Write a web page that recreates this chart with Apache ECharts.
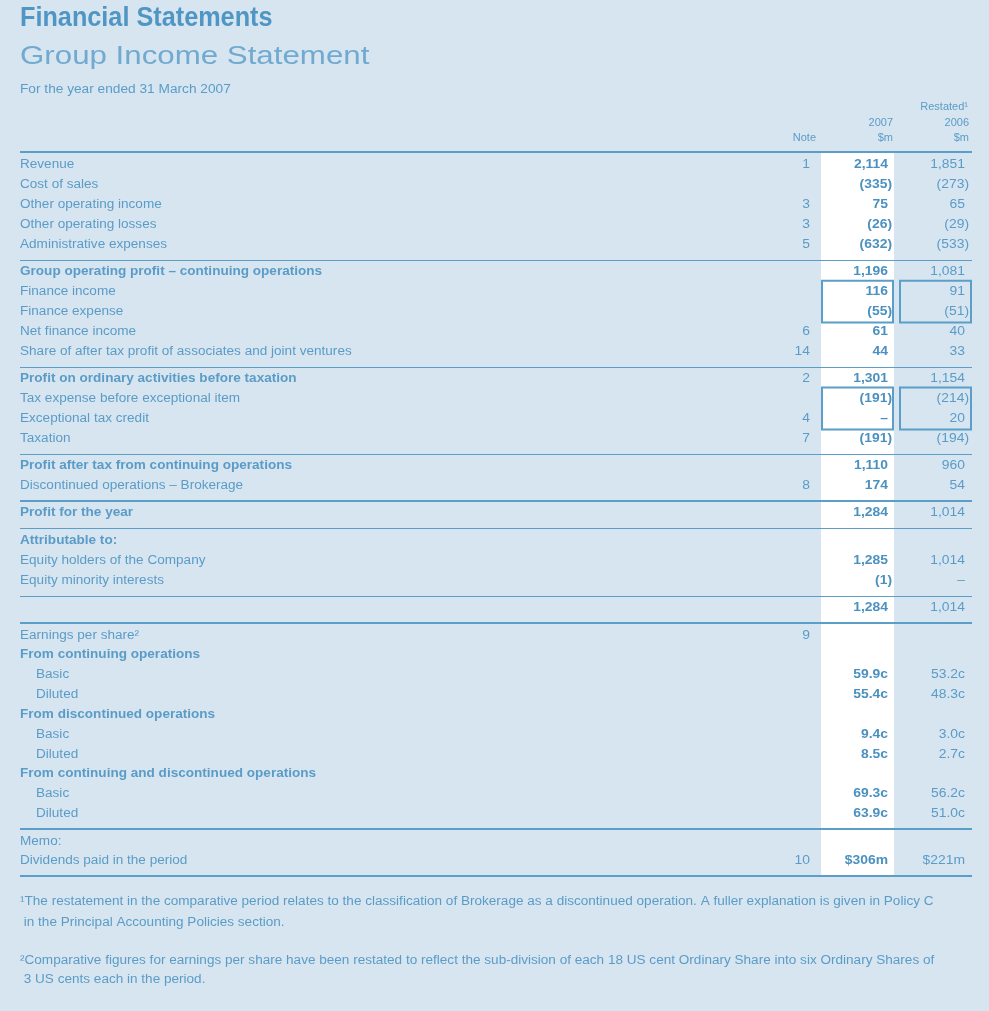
<!DOCTYPE html>
<html>
<head>
<meta charset="utf-8">
<script src="https://cdn.jsdelivr.net/npm/echarts@6/dist/echarts.min.js"></script>
<style>
html,body{margin:0;padding:0;background:#d7e5f0;}
#chart{width:989px;height:1011px;}
</style>
</head>
<body>
<div id="chart"></div>
<script>
// ---------- DATA ----------
const rowLabels = [
  'Revenue', 'Cost of sales', 'Other operating income', 'Other operating losses', 'Administrative expenses',
  'Group operating profit – continuing operations', 'Finance income', 'Finance expense', 'Net finance income',
  'Share of after tax profit of associates and joint ventures',
  'Profit on ordinary activities before taxation', 'Tax expense before exceptional item', 'Exceptional tax credit', 'Taxation',
  'Profit after tax from continuing operations', 'Discontinued operations – Brokerage',
  'Profit for the year',
  'Attributable to:', 'Equity holders of the Company', 'Equity minority interests',
  '',
  'Earnings per share²', 'From continuing operations', 'Basic', 'Diluted',
  'From discontinued operations', 'Basic', 'Diluted',
  'From continuing and discontinued operations', 'Basic', 'Diluted',
  'Memo:', 'Dividends paid in the period'
];
const noteRefs = ['1','','3','3','5', '','','','6','14', '2','','4','7', '','8', '', '','','', '', '9','','','', '','','', '','','', '','10'];
const values2007 = ['2,114','(335)','75','(26)','(632)', '1,196','116','(55)','61','44', '1,301','(191)','–','(191)',
  '1,110','174', '1,284', '','1,285','(1)', '1,284', '','','59.9c','55.4c', '','9.4c','8.5c', '','69.3c','63.9c', '','$306m'];
const values2006 = ['1,851','(273)','65','(29)','(533)', '1,081','91','(51)','40','33', '1,154','(214)','20','(194)',
  '960','54', '1,014', '','1,014','–', '1,014', '','','53.2c','48.3c', '','3.0c','2.7c', '','56.2c','51.0c', '','$221m'];
const headerYear = ['2007', '2006'];
const headerUnit = '$m';
const headerNote = 'Note';
const headerRestated = 'Restated¹';
const titleMain = 'Financial Statements';
const titleSub = 'Group Income Statement';
const periodText = 'For the year ended 31 March 2007';
const footnotes = [
  '¹The restatement in the comparative period relates to the classification of Brokerage as a discontinued operation. A fuller explanation is given in Policy C',
  ' in the Principal Accounting Policies section.',
  '²Comparative figures for earnings per share have been restated to reflect the sub-division of each 18 US cent Ordinary Share into six Ordinary Shares of',
  ' 3 US cents each in the period.'
];
// table structure
const sectionStarts = [5, 10, 14, 16, 17, 20, 21, 31];
const heavyRuleRows = [16, 21, 31];
const boldRows = [5, 10, 14, 16, 17, 22, 25, 28];
const indentRows = [23, 24, 26, 27, 29, 30];
const boxedGroups = [[6, 7], [11, 12]];

// ---------- LAYOUT ----------
const W = 989, H = 1011;
const BLUE = '#5a9cc7', BLUE_DARK = '#4b91bf', RULE = '#5b9ec8', BG = '#d7e5f0';
const FONT = 'Liberation Sans, Arial, sans-serif';
const Y0 = 165, ROW_H = 19.85, GAP = 7.6;
const LABEL_X = 20, INDENT_X = 36, NOTE_X = 810, C07_X = 888, C06_X = 965;
const RULE_L = 20, RULE_R = 972, TABLE_BOTTOM = 875;
const COL07 = [821, 894], COL06 = [899, 972];
const FS = 12.5, LABEL_SX = 1.085, NUM_SX = 1.11;

function sepsBefore(i) { return sectionStarts.filter(s => s <= i).length; }
function rowY(i) { return Y0 + i * ROW_H + sepsBefore(i) * GAP; }

const chart = echarts.init(document.getElementById('chart'), null, {renderer: 'canvas'});

function txt(p, s, opt) {
  const paren = /\)$/.test(s);
  return {
    type: 'text',
    x: p[0] + (opt.hang && paren ? 4 : 0), y: p[1],
    scaleX: opt.sx || 1,
    style: Object.assign({
      text: s, fill: BLUE, font: (opt.bold ? 'bold ' : '') + (opt.size || FS) + 'px ' + FONT,
      textAlign: opt.align || 'left', textVerticalAlign: 'middle'
    }, opt.style || {})
  };
}

const rowIdx = rowLabels.map((_, i) => [i]);

const option = {
  backgroundColor: BG,
  animation: false,
  grid: {left: 0, right: 0, top: 0, bottom: 0},
  xAxis: {type: 'value', min: 0, max: W, show: false},
  yAxis: {type: 'value', min: 0, max: H, inverse: true, show: false},
  series: [
    {
      type: 'custom', silent: true, data: [[0]], z: 1,
      renderItem: function (params, api) {
        const ch = [];
        // titles
        ch.push(txt(api.coord([LABEL_X, 19]), titleMain, {size: 27, bold: true, sx: 0.935, style: {fill: '#4f96c4'}}));
        ch.push(txt(api.coord([LABEL_X, 57]), titleSub, {size: 26.5, sx: 1.18, style: {fill: '#71aad0'}}));
        ch.push(txt(api.coord([LABEL_X, 90]), periodText, {size: 12.5, sx: 1.095}));
        // white column
        const top = api.coord([0, 152]), bot = api.coord([0, TABLE_BOTTOM]);
        ch.push({type: 'rect', shape: {x: api.coord([COL07[0], 0])[0], y: top[1], width: COL07[1] - COL07[0], height: bot[1] - top[1]}, style: {fill: '#ffffff'}});
        // header rule + bottom rule
        [151, TABLE_BOTTOM].forEach(yy => {
          ch.push({type: 'rect', shape: {x: api.coord([RULE_L,0])[0], y: api.coord([0,yy])[1], width: RULE_R - RULE_L, height: 2}, style: {fill: RULE}});
        });
        sectionStarts.forEach(r => {
          const heavy = heavyRuleRows.indexOf(r) >= 0;
          const y = Math.round(rowY(r) - 12);
          ch.push({type: 'rect', shape: {x: api.coord([RULE_L,0])[0], y: api.coord([0,y])[1] - (heavy ? 1 : 0), width: RULE_R - RULE_L, height: heavy ? 2 : 1}, style: {fill: RULE}});
        });
        // headers
        const hs = 11;
        ch.push(txt(api.coord([C06_X + 3, 107]), headerRestated, {align: 'right', size: hs}));
        ch.push(txt(api.coord([C07_X + 5, 123]), headerYear[0], {align: 'right', size: hs}));
        ch.push(txt(api.coord([C06_X + 4, 123]), headerYear[1], {align: 'right', size: hs}));
        ch.push(txt(api.coord([C07_X + 5, 137.5]), headerUnit, {align: 'right', size: hs}));
        ch.push(txt(api.coord([C06_X + 4, 137.5]), headerUnit, {align: 'right', size: hs}));
        ch.push(txt(api.coord([NOTE_X + 6, 137.5]), headerNote, {align: 'right', size: hs}));
        // boxes
        boxedGroups.forEach(g => {
          const y1 = rowY(g[0]) - 11, y2 = rowY(g[1]) + 11;
          [COL07, COL06].forEach(c => {
            const a = api.coord([c[0] + 1, y1]), b = api.coord([c[1] - 1, y2]);
            ch.push({type: 'rect', shape: {x: a[0], y: a[1], width: b[0] - a[0], height: b[1] - a[1]}, style: {fill: 'none', stroke: RULE, lineWidth: 2}});
          });
        });
        // footnotes
        const fy = [901.5, 922.5, 960.5, 980];
        footnotes.forEach((f, k) => ch.push(txt(api.coord([LABEL_X, fy[k]]), f, {size: 12, sx: 1.13})));
        return {type: 'group', children: ch};
      }
    },
    {
      type: 'custom', silent: true, data: rowIdx, z: 5,
      renderItem: function (params, api) {
        const i = api.value(0);
        const y = rowY(i);
        const bold = boldRows.indexOf(i) >= 0;
        const lx = indentRows.indexOf(i) >= 0 ? INDENT_X : LABEL_X;
        const ch = [];
        if (rowLabels[i]) ch.push(txt(api.coord([lx, y]), rowLabels[i], {bold: bold, sx: LABEL_SX}));
        if (noteRefs[i]) ch.push(txt(api.coord([NOTE_X, y]), noteRefs[i], {align: 'right', sx: NUM_SX}));
        if (values2007[i]) ch.push(txt(api.coord([C07_X, y]), values2007[i], {align: 'right', bold: true, hang: true, sx: NUM_SX, style: {fill: BLUE_DARK}}));
        if (values2006[i]) ch.push(txt(api.coord([C06_X, y]), values2006[i], {align: 'right', hang: true, sx: NUM_SX}));
        return {type: 'group', children: ch};
      }
    }
  ]
};
chart.setOption(option);
</script>
</body>
</html>
